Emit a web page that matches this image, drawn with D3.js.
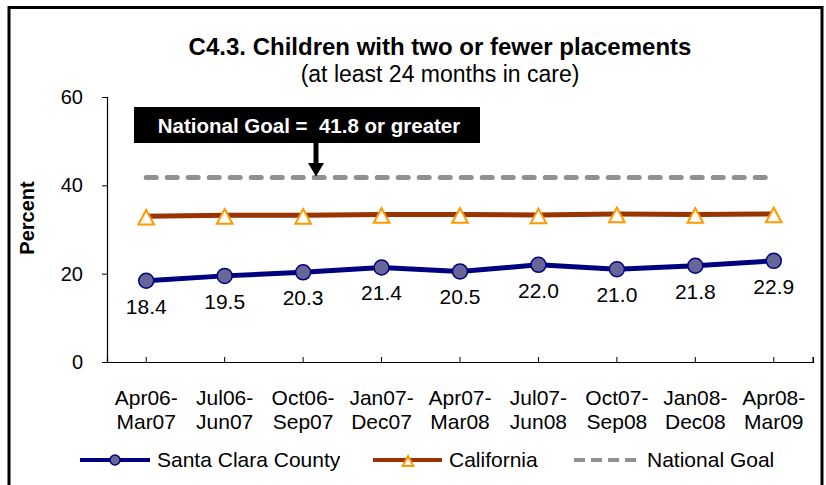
<!DOCTYPE html>
<html>
<head>
<meta charset="utf-8">
<script src="https://cdn.jsdelivr.net/npm/d3@7"></script>
<style>
  body { margin: 0; background: #fff; }
  svg text { font-family: "Liberation Sans", Arial, sans-serif; }
</style>
</head>
<body>
<div id="chart"></div>
<script>
// data
const periods = ["Apr06-Mar07", "Jul06-Jun07", "Oct06-Sep07", "Jan07-Dec07", "Apr07-Mar08",
                 "Jul07-Jun08", "Oct07-Sep08", "Jan08-Dec08", "Apr08-Mar09"];
const santaClara = [18.4, 19.5, 20.3, 21.4, 20.5, 22.0, 21.0, 21.8, 22.9];
const california = [33.0, 33.2, 33.2, 33.4, 33.4, 33.3, 33.5, 33.4, 33.5];
const nationalGoal = 41.8;
const yTicks = [0, 20, 40, 60];
const seriesNames = ["Santa Clara County", "California", "National Goal"];

const width = 826, height = 485;

const svg = d3.select("#chart")
  .append("svg")
  .attr("width", width)
  .attr("height", height);

// outer frame
svg.append("rect")
  .attr("x", 9).attr("y", 7.5)
  .attr("width", 813).attr("height", 490)
  .attr("fill", "none")
  .attr("stroke", "#000")
  .attr("stroke-width", 3);

svg.append("text")
  .attr("x", 440).attr("y", 55)
  .attr("text-anchor", "middle")
  .attr("font-size", 24).attr("font-weight", "bold")
  .text("C4.3. Children with two or fewer placements");

svg.append("text")
  .attr("x", 440).attr("y", 82)
  .attr("text-anchor", "middle")
  .attr("font-size", 23)
  .text("(at least 24 months in care)");

const x = d3.scaleBand()
  .domain(periods)
  .range([107, 813]);

const y = d3.scaleLinear()
  .domain([0, 60])
  .range([362, 97]);

const cx = (d, i) => x(periods[i]) + x.bandwidth() / 2;

// y axis
const yAxis = svg.append("g")
  .attr("transform", "translate(107,0)")
  .call(d3.axisLeft(y).tickValues(yTicks).tickSize(5).tickPadding(19));
yAxis.select(".domain").attr("stroke", "#000").attr("stroke-width", 1.2);
yAxis.selectAll("text")
  .attr("font-size", 20)
  .attr("fill", "#000")
  .attr("font-family", "Liberation Sans, Arial, sans-serif");

svg.append("text")
  .attr("transform", "translate(34,218) rotate(-90)")
  .attr("text-anchor", "middle")
  .attr("font-size", 20).attr("font-weight", "bold")
  .text("Percent");

// x axis
const xAxis = svg.append("g")
  .attr("transform", "translate(0,362)")
  .call(d3.axisBottom(x).tickSize(-5).tickFormat(""));
xAxis.select(".domain").attr("stroke", "#000").attr("stroke-width", 1.2);
xAxis.append("line")
  .attr("x1", x.range()[1]).attr("x2", x.range()[1])
  .attr("y1", 0).attr("y2", -5)
  .attr("stroke", "#000");

const xLabels = svg.append("g")
  .selectAll("text")
  .data(periods)
  .join("text")
  .attr("text-anchor", "middle")
  .attr("font-size", 21);
xLabels.append("tspan")
  .attr("x", d => x(d) + x.bandwidth() / 2)
  .attr("y", 405)
  .text(d => d.split("-")[0] + "-");
xLabels.append("tspan")
  .attr("x", d => x(d) + x.bandwidth() / 2)
  .attr("y", 429)
  .text(d => d.split("-")[1]);

// national goal dashed line
svg.append("line")
  .attr("x1", cx(null, 0)).attr("x2", cx(null, periods.length - 1))
  .attr("y1", y(nationalGoal)).attr("y2", y(nationalGoal))
  .attr("stroke", "#909090")
  .attr("stroke-width", 5)
  .attr("stroke-linecap", "round")
  .attr("stroke-dasharray", "10,11");

// callout
svg.append("rect")
  .attr("x", 134).attr("y", 107)
  .attr("width", 346).attr("height", 36)
  .attr("fill", "#000");
svg.append("text")
  .attr("x", 309).attr("y", 133)
  .attr("text-anchor", "middle")
  .attr("font-size", 20.5).attr("font-weight", "bold")
  .attr("fill", "#fff")
  .text("National Goal =\u00a0 41.8 or greater");
svg.append("line")
  .attr("x1", 316).attr("x2", 316)
  .attr("y1", 143).attr("y2", 164)
  .attr("stroke", "#000").attr("stroke-width", 5);
svg.append("path")
  .attr("d", d3.line()([[308, 163], [324, 163], [316, y(nationalGoal) - 1]]))
  .attr("fill", "#000");

const line = d3.line()
  .x((d, i) => cx(d, i))
  .y(d => y(d));

// California
svg.append("path")
  .datum(california)
  .attr("d", line)
  .attr("fill", "none")
  .attr("stroke", "#993300")
  .attr("stroke-width", 5);

const tri = s => `M0,${-s}L${s * 1.07},${s}L${-s * 1.07},${s}Z`;

svg.append("g")
  .selectAll("path")
  .data(california)
  .join("path")
  .attr("transform", (d, i) => `translate(${cx(d, i)},${y(d) + 1})`)
  .attr("d", tri(7.3))
  .attr("fill", "#fff")
  .attr("stroke", "#ff9900")
  .attr("stroke-width", 2);

// Santa Clara
svg.append("path")
  .datum(santaClara)
  .attr("d", line)
  .attr("fill", "none")
  .attr("stroke", "#000080")
  .attr("stroke-width", 5);

svg.append("g")
  .selectAll("circle")
  .data(santaClara)
  .join("circle")
  .attr("cx", (d, i) => cx(d, i))
  .attr("cy", d => y(d))
  .attr("r", 7.5)
  .attr("fill", "#666699")
  .attr("stroke", "#000080")
  .attr("stroke-width", 1.5);

svg.append("g")
  .selectAll("text")
  .data(santaClara)
  .join("text")
  .attr("x", (d, i) => cx(d, i))
  .attr("y", d => y(d) + 33)
  .attr("text-anchor", "middle")
  .attr("font-size", 21)
  .text(d => d.toFixed(1));

// legend
const legend = svg.append("g").attr("transform", "translate(0,460)");

legend.append("line")
  .attr("x1", 80).attr("x2", 150).attr("y1", 0).attr("y2", 0)
  .attr("stroke", "#000080").attr("stroke-width", 4);
legend.append("circle")
  .attr("cx", 115).attr("cy", 0).attr("r", 5)
  .attr("fill", "#666699").attr("stroke", "#000080").attr("stroke-width", 1.5);
legend.append("text")
  .attr("x", 157).attr("y", 7).attr("font-size", 21)
  .text(seriesNames[0]);

legend.append("line")
  .attr("x1", 373).attr("x2", 442).attr("y1", 0).attr("y2", 0)
  .attr("stroke", "#993300").attr("stroke-width", 4);
legend.append("path")
  .attr("transform", "translate(408,1)")
  .attr("d", tri(5))
  .attr("fill", "#fff").attr("stroke", "#ff9900").attr("stroke-width", 2);
legend.append("text")
  .attr("x", 449).attr("y", 7).attr("font-size", 21)
  .text(seriesNames[1]);

legend.append("line")
  .attr("x1", 574).attr("x2", 638).attr("y1", 0).attr("y2", 0)
  .attr("stroke", "#909090").attr("stroke-width", 4)
  .attr("stroke-dasharray", "11,6");
legend.append("text")
  .attr("x", 647).attr("y", 7).attr("font-size", 21)
  .text(seriesNames[2]);
</script>
</body>
</html>
